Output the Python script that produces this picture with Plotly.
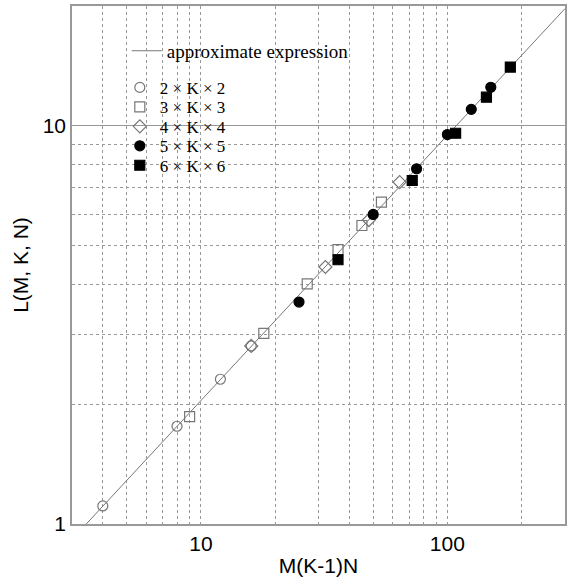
import plotly.graph_objects as go

# ---- data ----
line_x = [3, 300]
line_y = [0.915, 19.7]

x_2k2 = [4, 8, 12, 16]
y_2k2 = [1.11, 1.76, 2.31, 2.80]

x_3k3 = [9, 18, 27, 36, 45, 54]
y_3k3 = [1.86, 3.01, 4.01, 4.89, 5.62, 6.43]

x_4k4 = [16, 32, 48, 64]
y_4k4 = [2.80, 4.42, 5.80, 7.22]

x_5k5 = [25, 50, 75, 100, 125, 150]
y_5k5 = [3.61, 5.99, 7.80, 9.51, 11.0, 12.5]

x_6k6 = [36, 72, 108, 144, 180]
y_6k6 = [4.61, 7.29, 9.58, 11.8, 14.05]

x_ticks = [10, 100]
x_minor = [4, 5, 6, 7, 8, 9, 20, 30, 40, 50, 60, 70, 80, 90, 200]
y_ticks = [1, 10]
y_minor = [2, 3, 4, 5, 6, 7, 8, 9]

labels = ["2 × K × 2", "3 × K × 3", "4 × K × 4", "5 × K × 5", "6 × K × 6"]

GRAY = "#777777"
serif = "Liberation Serif, Times New Roman, serif"
sans = "Liberation Sans Narrow, Liberation Sans, Arial, sans-serif"

fig = go.Figure()
fig.add_trace(go.Scatter(x=line_x, y=line_y, mode="lines",
                         line=dict(color=GRAY, width=1),
                         name="approximate expression", legend="legend"))

series = [
    (x_2k2, y_2k2, "circle-open", GRAY),
    (x_3k3, y_3k3, "square-open", GRAY),
    (x_4k4, y_4k4, "diamond-open", GRAY),
    (x_5k5, y_5k5, "circle", "black"),
    (x_6k6, y_6k6, "square", "black"),
]
for i, (xs, ys, sym, col) in enumerate(series):
    fig.add_trace(go.Scatter(
        x=xs, y=ys, mode="markers", name=labels[i],
        marker=dict(symbol=sym, color=col, size=10,
                    line=dict(color=col, width=1.2)),
        legend=f"legend{i + 2}"))

# plot area: x 72..567, y 6..525
def py(pix):
    return (525 - pix) / 519.0

def px(pix):
    return (pix - 72) / 495.0

leg_common = dict(bgcolor="rgba(0,0,0,0)", borderwidth=0,
                  font=dict(family=serif, size=17, color="black"),
                  xanchor="left", yanchor="middle", itemwidth=30)
layout_legends = {"legend": dict(x=px(127), y=py(51),
                                 **{**leg_common, "font": dict(family=serif, size=19, color="black")})}
rows = [88, 107.5, 127, 146.5, 166]
for i, r in enumerate(rows):
    layout_legends[f"legend{i + 2}"] = dict(x=px(120), y=py(r), **leg_common)

# white backing boxes behind the legend (above grid, below traces)
shapes = [
    dict(type="rect", xref="paper", yref="paper",
         x0=px(128), x1=px(362), y0=py(63), y1=py(40),
         fillcolor="white", line=dict(width=0), layer="between"),
    dict(type="rect", xref="paper", yref="paper",
         x0=px(137), x1=px(240), y0=py(177), y1=py(77),
         fillcolor="white", line=dict(width=0), layer="between"),
]

fig.update_layout(
    width=570, height=577,
    margin=dict(l=72, r=3, t=6, b=52),
    paper_bgcolor="white", plot_bgcolor="white",
    showlegend=True, shapes=shapes,
    **layout_legends,
)

fig.update_xaxes(
    type="log", range=[0.4771, 2.4771],
    tickvals=x_ticks, ticktext=[str(v) for v in x_ticks],
    tickfont=dict(family=sans, size=21, color="black"),
    showgrid=True, gridcolor="#999999", griddash="dot", gridwidth=1,
    minor=dict(tickvals=x_minor, showgrid=True, gridcolor="#999999",
               griddash="dot", gridwidth=1, ticks=""),
    showline=True, mirror=True, linecolor="#999999", linewidth=1.5,
    ticks="", zeroline=False,
    title=dict(text="M(K-1)N", font=dict(family=sans, size=21, color="black"),
               standoff=4),
)
fig.update_yaxes(
    type="log", range=[0, 1.301],
    tickvals=y_ticks, ticktext=[str(v) for v in y_ticks],
    tickfont=dict(family=sans, size=21, color="black"),
    showgrid=True, gridcolor="#999999", griddash="solid", gridwidth=1,
    minor=dict(tickvals=y_minor, showgrid=True, gridcolor="#999999",
               griddash="dot", gridwidth=1, ticks=""),
    showline=True, mirror=True, linecolor="#999999", linewidth=1.5,
    ticks="", zeroline=False,
    title=dict(text="L(M, K, N)", font=dict(family=sans, size=21, color="black"),
               standoff=8),
)

fig.write_html("out.html")
